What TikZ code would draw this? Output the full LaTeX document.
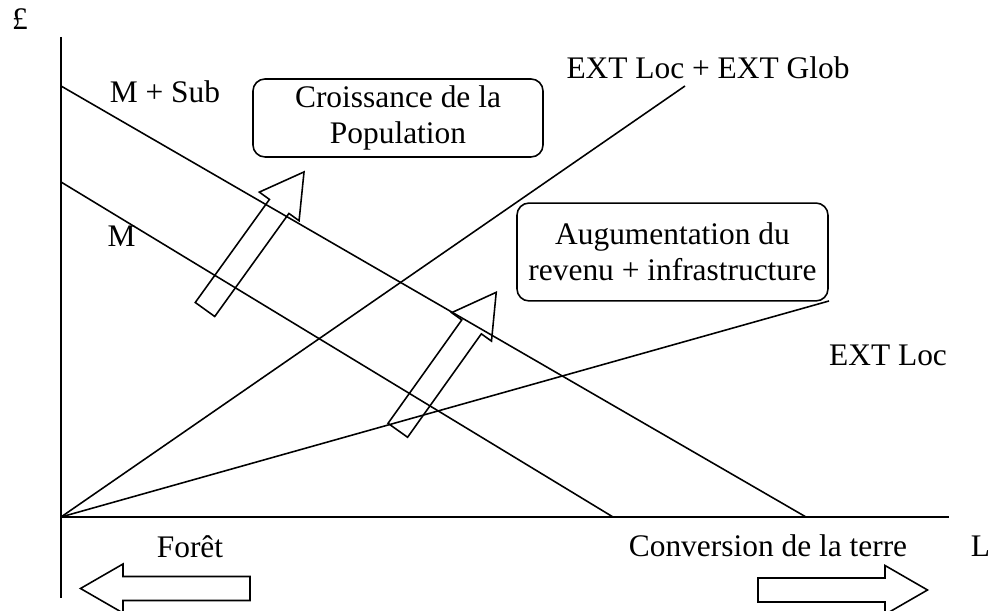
\documentclass[tikz,border=0pt]{standalone}
\usepackage{fontspec}
\setmainfont{Liberation Serif}
\usepackage{tikz}
% hollow block arrow: tail centre, angle
\newcommand\BlockArrow[2]{%
\begin{scope}[shift={(#1)},rotate=#2]
\draw (0,-12) -- (127,-12) -- (127,-24.5) -- (169.5,0) -- (127,24.5) -- (127,12) -- (0,12) -- cycle;
\end{scope}}
\tikzset{
  lbl/.style={anchor=base,inner sep=0pt,font=\fontsize{12}{13.8}\selectfont},
  cadre/.style={draw,rounded corners=4.6pt,align=center,inner sep=0pt,
    font=\fontsize{12}{13.8}\selectfont},
  courbe/.style={line width=0.6pt},
  axe/.style={line width=0.75pt}
}

\begin{document}
\begin{tikzpicture}[x=0.382pt,y=0.382pt,line width=0.6pt]
\useasboundingbox (0,0) rectangle (990,611);
\clip (0,0) rectangle (990,611);
% Drawing axes
\coordinate (O) at (61,94);
\coordinate (ytop) at (61,574);
\coordinate (ybot) at (61,13);
\coordinate (xend) at (949,94);
\draw[axe] (ytop) -- (ybot);
\draw[axe] (O) -- (xend);
% Drawing curves
\coordinate (msubA) at (61,525);
\coordinate (msubB) at (806,94);
\coordinate (mA) at (61,429);
\coordinate (mB) at (613,94);
\coordinate (globB) at (685,525);
\coordinate (locB) at (829,310);
\draw[courbe] (msubA) -- (msubB);
\draw[courbe] (mA) -- (mB);
\draw[courbe] (O) -- (globB);
\draw[courbe] (O) -- (locB);
% Labels
\node[lbl] (livre) at (20,581) {£};
\node[lbl] (msub) at (165,508) {M + Sub};
\node[lbl] (m) at (121.5,364.5) {M};
\node[lbl] (glob) at (708,532) {EXT Loc + EXT Glob};
\node[lbl] (loc) at (888,245) {EXT Loc};
\node[lbl] (foret) at (190,53) {Forêt};
\node[lbl] (conv) at (768,54) {Conversion de la terre};
\node[lbl] (L) at (980.5,54) {L};
% Boxes
\node[cadre,minimum width=110.8pt,minimum height=29.8pt] (pop) at (398,493)
  {Croissance de la\\Population};
\node[cadre,minimum width=118.8pt,minimum height=37.4pt] (rev) at (672.5,359)
  {Augumentation du\\revenu + infrastructure};
% Block arrows
\BlockArrow{205,301.5}{54.25}
\BlockArrow{397.8,180.7}{54.5}
\BlockArrow{250,22.5}{180}
\BlockArrow{758,21}{0}
\end{tikzpicture}
\end{document}
